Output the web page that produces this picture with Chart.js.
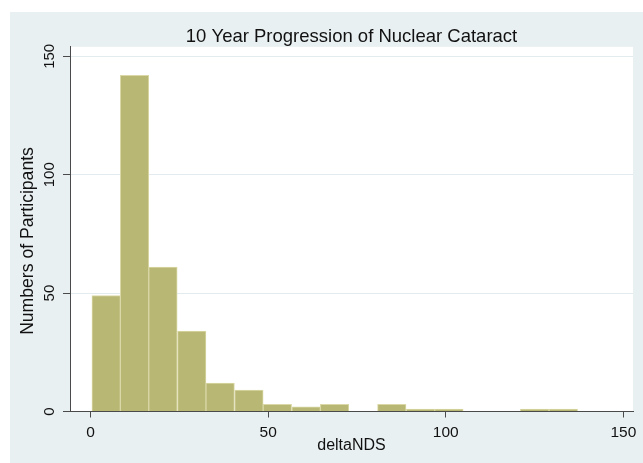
<!DOCTYPE html>
<html>
<head>
<meta charset="utf-8">
<script src="https://cdn.jsdelivr.net/npm/chart.js@4"></script>
<style>
  html,body{margin:0;padding:0;background:#fff;}
  #wrap{width:643px;height:463px;}
</style>
</head>
<body>
<div id="wrap"><canvas id="c" width="643" height="463"></canvas></div>
<script>
// histogram data
const binCenters=[4.4,12.4,20.4,28.5,36.5,44.6,52.6,60.7,68.7,76.8,84.8,92.9,100.9,108.9,117.0,125.0,133.1];
const counts=[49,142,61,34,12,9,3,2,3,0,3,1,1,0,0,1,1];
const xTicks=[0,50,100,150];
const yTicks=[0,50,100,150];
const yTitle='Numbers of Participants';

const FONT="'Liberation Sans', Arial, sans-serif";
const BG='#E9F0F2';
const GRID='#E3EBEE';
const AXIS='#4a4a4a';

// grey graph region + white plot region
const bgPlugin={
  id:'bg',
  beforeDraw(chart){
    const {ctx,chartArea:a}=chart;
    ctx.save();
    ctx.fillStyle='#fff';
    ctx.fillRect(0,0,chart.width,chart.height);
    ctx.fillStyle=BG;
    ctx.fillRect(10,12,chart.width-10,chart.height-12);
    ctx.fillStyle='#fff';
    ctx.fillRect(a.left,a.top,a.right-a.left,a.bottom-a.top);
    ctx.restore();
  }
};

// y tick labels are rotated in the original, and the y title sits a bit low
const yLabelPlugin={
  id:'ylabels',
  afterDraw(chart){
    const {ctx}=chart; const y=chart.scales.y;
    ctx.save();
    ctx.fillStyle='#111';
    ctx.textAlign='center';
    ctx.textBaseline='middle';
    ctx.font='15px '+FONT;
    y.ticks.forEach(t=>{
      const py=y.getPixelForValue(t.value);
      ctx.save();
      ctx.translate(49.5,py);
      ctx.rotate(-Math.PI/2);
      ctx.fillText(String(t.value),0,0);
      ctx.restore();
    });
    ctx.font='17.6px '+FONT;
    ctx.translate(28,241);
    ctx.rotate(-Math.PI/2);
    ctx.fillText(yTitle,0,0);
    ctx.restore();
  }
};

new Chart(document.getElementById('c'),{
  type:'bar',
  data:{
    datasets:[{
      data:binCenters.map((x,i)=>({x,y:counts[i]})),
      backgroundColor:'#B8B773',
      borderColor:'#DAD8A6',
      borderWidth:1,
      barPercentage:1,
      categoryPercentage:1
    }]
  },
  options:{
    responsive:false,
    animation:false,
    layout:{padding:{left:0,right:10,top:0,bottom:0}},
    plugins:{
      legend:{display:false},
      tooltip:{enabled:false},
      title:{
        display:true,
        fullSize:false,
        text:'10 Year Progression of Nuclear Cataract',
        color:'#111',
        font:{family:FONT,size:18.5,weight:'normal',lineHeight:1.1},
        padding:{top:26.5,bottom:0}
      }
    },
    scales:{
      x:{
        type:'linear',
        min:-5.77,
        max:152.7,
        offset:false,
        afterBuildTicks:s=>{ s.ticks=xTicks.map(v=>({value:v})); },
        afterFit:s=>{ s.height=51.5; },
        ticks:{color:'#111',font:{family:FONT,size:15.5},padding:6,maxRotation:0},
        grid:{offset:false,drawOnChartArea:false,color:AXIS,tickColor:AXIS,tickLength:6},
        border:{color:AXIS,width:1},
        title:{display:true,text:'deltaNDS',color:'#111',font:{family:FONT,size:16},padding:{top:0,bottom:8}}
      },
      y:{
        min:0,
        max:154,
        afterBuildTicks:s=>{ s.ticks=yTicks.map(v=>({value:v})); },
        afterFit:s=>{ s.width=70; },
        ticks:{display:false},
        grid:{offset:false,color:GRID,tickColor:AXIS,tickLength:7,lineWidth:1},
        border:{color:AXIS,width:1},
        title:{display:false}
      }
    }
  },
  plugins:[bgPlugin,yLabelPlugin]
});
</script>
</body>
</html>
